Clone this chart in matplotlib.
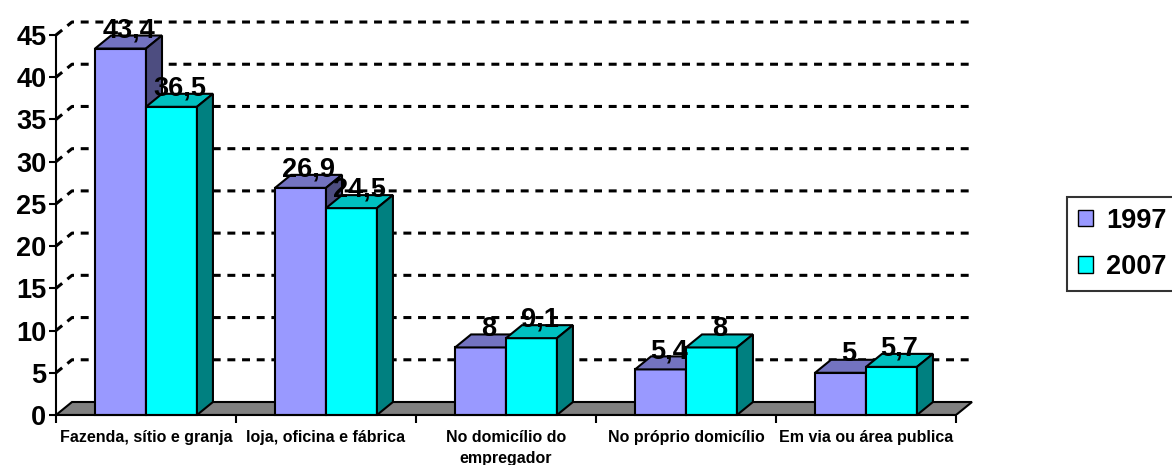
import matplotlib
matplotlib.use("Agg")
import matplotlib.pyplot as plt
from matplotlib.patches import Polygon, Patch

plt.rcParams['font.family'] = ['Liberation Sans', 'DejaVu Sans']
plt.rcParams['font.weight'] = 'bold'

categories = ["Fazenda, sítio e granja", "loja, oficina e fábrica",
              "No domicílio do\nempregador", "No próprio domicílio",
              "Em via ou área publica"]
years = ["1997", "2007"]
v1997 = [43.4, 26.9, 8, 5.4, 5]
v2007 = [36.5, 24.5, 9.1, 8, 5.7]
labels1997 = ["43,4", "26,9", "8", "5,4", "5"]
labels2007 = ["36,5", "24,5", "9,1", "8", "5,7"]
yticks = [0, 5, 10, 15, 20, 25, 30, 35, 40, 45]

# colours: front, top, side
colors = {
    "1997": ("#9999FF", "#7373C0", "#4D4D80"),
    "2007": ("#00FFFF", "#00C0C0", "#008080"),
}

W, H = 1172, 465
fig = plt.figure(figsize=(W / 100, H / 100), dpi=100)
ax = fig.add_axes([56 / W, 50 / H, 934 / W, 405 / H])
ax.set_xlim(0, 934 / 180)
ax.set_ylim(0, 405 / 8.444)

ddx = 16 / 180      # depth offset in category units
ddy = 13 / 8.444    # depth offset in value units
n = len(categories)
bw = 0.283

# floor
floor = Polygon([(0, 0), (n, 0), (n + ddx, ddy), (ddx, ddy)], closed=True,
                facecolor="#808080", edgecolor="black", lw=1.5, zorder=2)
ax.add_patch(floor)

# gridlines on the back wall
for v in yticks[1:]:
    ax.plot([0, ddx, n + ddx], [v, v + ddy, v + ddy], color="black", lw=2.2,
            linestyle=(0, (2.6, 2.2)), zorder=1, clip_on=False)


def bar3d(x0, h, cols):
    front, top, side = cols
    kw = dict(closed=True, edgecolor="black", lw=1.5, zorder=3, clip_on=False)
    ax.add_patch(Polygon([(x0, 0), (x0 + bw, 0), (x0 + bw, h), (x0, h)],
                         facecolor=front, **kw))
    ax.add_patch(Polygon([(x0, h), (x0 + bw, h), (x0 + bw + ddx, h + ddy),
                          (x0 + ddx, h + ddy)], facecolor=top, **kw))
    ax.add_patch(Polygon([(x0 + bw, 0), (x0 + bw + ddx, ddy),
                          (x0 + bw + ddx, h + ddy), (x0 + bw, h)],
                         facecolor=side, **kw))


for i in range(n):
    for off, vals, labs, yr in [(0.217, v1997, labels1997, "1997"),
                                (0.5, v2007, labels2007, "2007")]:
        x0 = i + off
        bar3d(x0, vals[i], colors[yr])
        ax.text(x0 + bw / 2 + ddx / 2, vals[i] + ddy - 0.2, labs[i],
                ha="center", va="baseline", fontsize=19.5, fontweight="bold",
                zorder=5)

# axes
for s in ["top", "right"]:
    ax.spines[s].set_visible(False)
ax.spines["left"].set_bounds(0, 45)
ax.spines["bottom"].set_bounds(0, n)
ax.spines["left"].set_linewidth(1.5)
ax.spines["bottom"].set_linewidth(1.5)
ax.spines["left"].set_zorder(4)
ax.spines["bottom"].set_zorder(4)
ax.set_yticks(yticks)
ax.set_yticklabels([str(t) for t in yticks])
ax.tick_params(axis="y", length=5, width=1.5, labelsize=19.5, pad=2)
ax.set_xticks(range(n + 1))
ax.set_xticklabels([])
ax.tick_params(axis="x", length=6, width=1.5)
for i, c in enumerate(categories):
    ax.text(i + 0.5, -1.8, c, ha="center", va="top", fontsize=11.5,
            fontweight="bold", linespacing=1.5)

handles = [Patch(facecolor=colors[y][0], edgecolor="black", lw=1) for y in years]
leg = fig.legend(handles, years, loc="upper left",
                 bbox_to_anchor=(1067 / W, 1 - 197 / H), fancybox=False,
                 prop={"size": 19.5, "weight": "bold"}, handlelength=0.55,
                 handleheight=0.55, handletextpad=0.5, labelspacing=0.75,
                 borderpad=0.4, borderaxespad=0)
leg.get_frame().set_edgecolor("black")
leg.get_frame().set_linewidth(1.5)

fig.savefig("out.png", dpi=100)
